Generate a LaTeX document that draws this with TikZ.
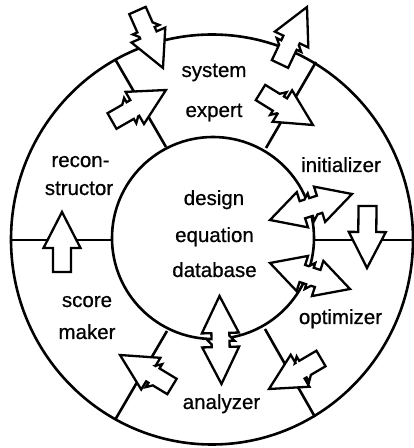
\documentclass[tikz,border=0pt]{standalone}
\usepackage{fontspec}
\newfontfamily\lblfont{Liberation Sans}[BoldFont={Liberation Sans},BoldFeatures={FakeBold=0.7}]
\begin{document}
% shaft half width, head half width, head length, position of the break, break size
\def\sw{9}
\def\hw{18.5}
\def\hl{36}
\def\kp{21}
\def\tz{5}
% single arrow with a lightning break in the shaft: tail (#1,#2) to tip (#3,#4)
\newcommand\boltarrow[4]{%
  \pgfmathsetmacro\ang{atan2(#4-#2,#3-#1)}%
  \pgfmathsetmacro\len{veclen(#3-#1,#4-#2)}%
  \pgfmathsetmacro\hb{\len-\hl}%
  \begin{scope}[shift={(#1,#2)},rotate=\ang]
    \draw[blockarrow] (0,\sw) -- (\kp-4,\sw) -- (\kp+1,\sw+\tz) -- (\kp+1,\sw)
      -- (\hb,\sw) -- (\hb,\hw) -- (\len,0) -- (\hb,-\hw) -- (\hb,-\sw)
      -- (\kp+4,-\sw) -- (\kp-1,-\sw-\tz) -- (\kp-1,-\sw) -- (0,-\sw) -- cycle;
  \end{scope}}
% plain single arrow
\newcommand\plainarrow[4]{%
  \pgfmathsetmacro\ang{atan2(#4-#2,#3-#1)}%
  \pgfmathsetmacro\len{veclen(#3-#1,#4-#2)}%
  \pgfmathsetmacro\hb{\len-\hl}%
  \begin{scope}[shift={(#1,#2)},rotate=\ang]
    \draw[blockarrow] (0,\sw) -- (\hb,\sw) -- (\hb,\hw) -- (\len,0)
      -- (\hb,-\hw) -- (\hb,-\sw) -- (0,-\sw) -- cycle;
  \end{scope}}
% double arrow with a break in the middle: tip (#1,#2) to tip (#3,#4), head length #5
\newcommand\twinarrow[5]{%
  \pgfmathsetmacro\ang{atan2(#4-#2,#3-#1)}%
  \pgfmathsetmacro\len{veclen(#3-#1,#4-#2)}%
  \pgfmathsetmacro\hb{\len-#5}%
  \pgfmathsetmacro\mid{\len/2}%
  \begin{scope}[shift={(#1,#2)},rotate=\ang]
    \draw[blockarrow] (0,0) -- (#5,\hw) -- (#5,\sw) -- (\mid-4,\sw) -- (\mid+1,\sw+\tz)
      -- (\mid+1,\sw) -- (\hb,\sw) -- (\hb,\hw) -- (\len,0) -- (\hb,-\hw) -- (\hb,-\sw)
      -- (\mid+4,-\sw) -- (\mid-1,-\sw-\tz) -- (\mid-1,-\sw) -- (#5,-\sw) -- (#5,-\hw) -- cycle;
  \end{scope}}
\begin{tikzpicture}[x=1pt,y=1pt,
  ring/.style={line width=2.6pt},
  blockarrow/.style={draw,fill=white,line width=2.3pt,line join=miter},
  lbl/.style={font=\lblfont\bfseries\fontsize{20.5}{24}\selectfont,anchor=base,inner sep=0pt}]
\useasboundingbox (0,0) rectangle (414,448);
% rings
\draw[ring] (212,208.5) ellipse [x radius=201, y radius=205];
\draw[ring] (213,210) circle [radius=101];
% sector dividers
\draw[ring] (166,301) -- (115,389);
\draw[ring] (266,300) -- (316,386);
\draw[ring] (167,117) -- (115,28);
\draw[ring] (265,119) -- (315,31);
\draw[ring] (10,208) -- (113,208);
\draw[ring] (313,208) -- (415,208);
% arrows
\boltarrow{137.5}{437.5}{163}{380}
\boltarrow{112}{327}{166}{358}
\boltarrow{280}{384}{307}{441}
\boltarrow{260.5}{355.5}{313}{323}
\boltarrow{172}{61.5}{120}{93}
\boltarrow{321}{89.5}{269}{59}
\plainarrow{62}{176}{62}{236}
\plainarrow{367.5}{242}{367}{180}
\twinarrow{270}{228}{352}{254}{34}
\twinarrow{270}{185}{350}{159}{34}
\twinarrow{219.5}{152}{221.5}{64}{37}
% labels
\node[lbl] (sys) at (214,371) {system};
\node[lbl] (exp) at (214,331) {expert};
\node[lbl] (d1) at (214,243) {design};
\node[lbl] (d2) at (214.5,206) {equation};
\node[lbl] (d3) at (214.5,171) {database};
\node[lbl] (ini) at (341,276) {initializer};
\node[lbl] (rc1) at (80.5,281) {recon-};
\node[lbl] (rc2) at (79,253) {structor};
\node[lbl] (sm1) at (87,141) {score};
\node[lbl] (sm2) at (87,109) {maker};
\node[lbl] (opt) at (340.5,124) {optimizer};
\node[lbl] (ana) at (221.5,39) {analyzer};
\end{tikzpicture}
\end{document}
